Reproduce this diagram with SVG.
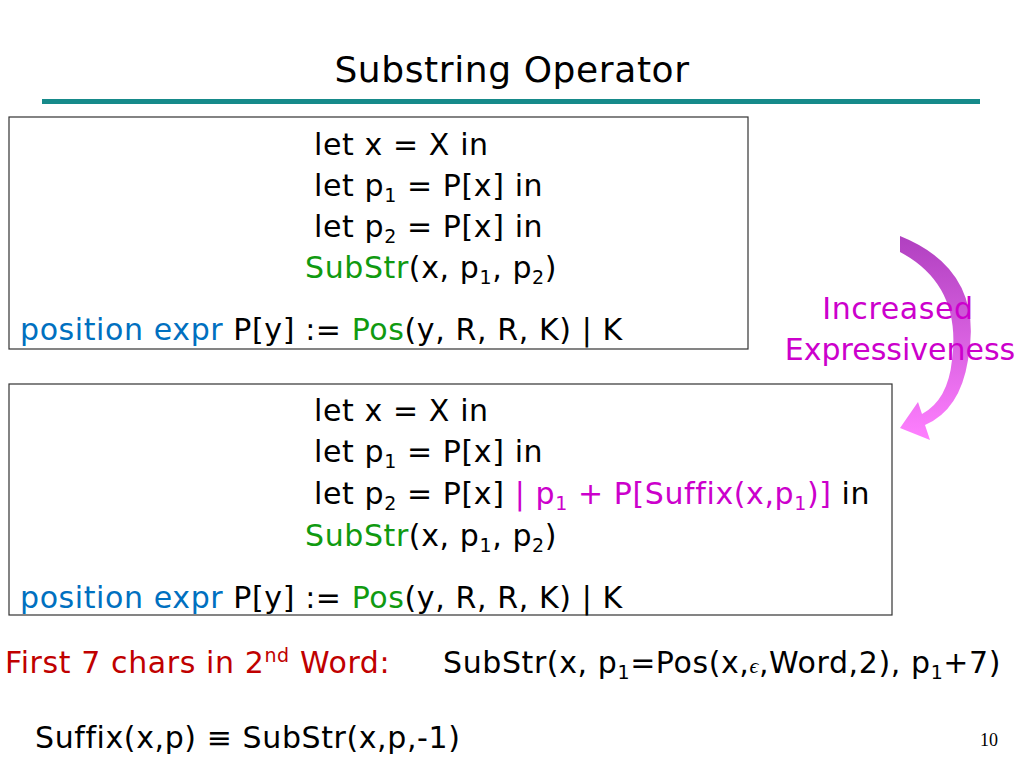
<svg xmlns="http://www.w3.org/2000/svg" width="1024" height="768" viewBox="0 0 1024 768">
<style>
text{font-family:"DejaVu Sans","Liberation Sans",sans-serif;font-size:30px;fill:#000;letter-spacing:0.6px}
.b{fill:#0070c0}.g{fill:#109a10}.m{fill:#cc00cc}.r{fill:#c00000}
.box{fill:#fff;stroke:#333;stroke-width:1.2}
</style>
<defs><linearGradient id="gr" x1="0" y1="0" x2="0" y2="1"><stop offset="0" stop-color="#b040c0"/><stop offset="1" stop-color="#ff80ff"/></linearGradient></defs>
<rect width="1024" height="768" fill="#fff"/>
<text x="512" y="82" text-anchor="middle" style="font-size:36px">Substring Operator</text>
<rect x="42" y="99" width="938" height="5" fill="#168a8a"/>
<g id="arrow"><path d="M900,236 Q985,270 968,360 Q960,410 925,425 L930,440 L900,428 L918,402 L922,414 Q948,400 952,360 Q962,285 900,252 Z" fill="url(#gr)"/></g>
<g id="label"><text x="898" y="319" text-anchor="middle" class="m">Increased</text><text x="900" y="360" text-anchor="middle" class="m" style="letter-spacing:0">Expressiveness</text></g>
<g id="box1"><rect class="box" x="9" y="117" width="739" height="232"/>
<text x="314" y="155">let x = X in</text>
<text x="314" y="196">let p<tspan font-size="19" dy="6">1</tspan><tspan dy="-6"> = P[x] in</tspan></text>
<text x="314" y="237">let p<tspan font-size="19" dy="6">2</tspan><tspan dy="-6"> = P[x] in</tspan></text>
<text x="305" y="278"><tspan class="g">SubStr</tspan>(x, p<tspan font-size="19" dy="6">1</tspan><tspan dy="-6">, p</tspan><tspan font-size="19" dy="6">2</tspan><tspan dy="-6">)</tspan></text>
<text x="20" y="340"><tspan class="b">position expr</tspan> P[y]  := <tspan class="g">Pos</tspan>(y, R, R, K) | K</text></g>
<g id="box2"><rect class="box" x="9" y="384" width="883" height="231"/>
<text x="314" y="421">let x = X in</text>
<text x="314" y="462">let p<tspan font-size="19" dy="6">1</tspan><tspan dy="-6"> = P[x] in</tspan></text>
<text x="314" y="504">let p<tspan font-size="19" dy="6">2</tspan><tspan dy="-6"> = P[x] </tspan><tspan class="m">| p</tspan><tspan class="m" font-size="19" dy="6">1</tspan><tspan class="m" dy="-6"> + P[Suffix(x,p</tspan><tspan class="m" font-size="19" dy="6">1</tspan><tspan class="m" dy="-6">)]</tspan> in</text>
<text x="305" y="546"><tspan class="g">SubStr</tspan>(x, p<tspan font-size="19" dy="6">1</tspan><tspan dy="-6">, p</tspan><tspan font-size="19" dy="6">2</tspan><tspan dy="-6">)</tspan></text>
<text x="20" y="608"><tspan class="b">position expr</tspan> P[y]  := <tspan class="g">Pos</tspan>(y, R, R, K) | K</text></g>
<text x="5" y="673" class="r">First 7 chars in 2<tspan font-size="19" dy="-11">nd</tspan><tspan dy="11"> Word:</tspan></text>
<text x="443" y="673">SubStr(x, p<tspan font-size="19" dy="6">1</tspan><tspan dy="-6">=Pos(x,</tspan><tspan font-family="Liberation Serif" font-style="italic" font-size="22">ϵ</tspan>,Word,2), p<tspan font-size="19" dy="6">1</tspan><tspan dy="-6">+7)</tspan></text>
<text x="35" y="748">Suffix(x,p) ≡ SubStr(x,p,-1)</text>
<text x="980" y="746" style="font-family:'Liberation Serif',serif;font-size:18px;letter-spacing:0">10</text>
</svg>
